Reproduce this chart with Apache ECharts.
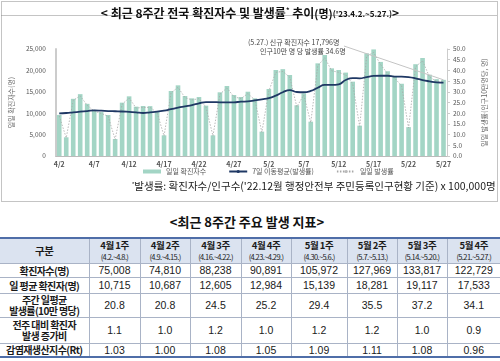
<!DOCTYPE html>
<html><head><meta charset="utf-8">
<script src="https://cdn.jsdelivr.net/npm/echarts@6/dist/echarts.min.js"></script>
<style>
html,body{margin:0;padding:0;background:#fff;}
#wrap{position:relative;width:500px;height:361px;overflow:hidden;font-family:"Noto Sans CJK KR","Noto Sans",sans-serif;}
#chart{position:absolute;left:0;top:0;width:500px;height:205px;}
#ttl{position:absolute;left:0;top:213px;width:494px;text-align:center;font-weight:bold;font-size:13px;color:#111;line-height:18px;}
table{position:absolute;left:0;top:237px;border-collapse:collapse;table-layout:fixed;width:500px;}
td,th{border:1px solid #a9b3c6;padding:0;text-align:center;color:#1a1a1a;overflow:hidden;white-space:nowrap;}
tr:first-child th{border-top:2px solid #4f6ea8;}
tr:last-child td{border-bottom:2px solid #4f6ea8;}
th{background:#dbe3f0;font-weight:bold;font-size:9.5px;line-height:11px;letter-spacing:-0.5px;}
th small{font-size:7.5px;font-weight:normal;letter-spacing:-0.6px;}
td.h{font-weight:bold;font-size:10px;letter-spacing:-0.6px;line-height:11px;}
td.n{font-family:"Liberation Sans",Arial,sans-serif;font-size:10.5px;}
td:first-child,th:first-child{border-left:none;}
td:last-child,th:last-child{border-right:none;}
</style></head>
<body><div id="wrap">
<div id="chart"></div>
<div id="ttl">&lt;최근 8주간 주요 발생 지표&gt;</div>
<table id="tbl"></table>
</div>
<script>
var dates = ['4/2','4/3','4/4','4/5','4/6','4/7','4/8','4/9','4/10','4/11','4/12','4/13','4/14','4/15','4/16','4/17','4/18','4/19','4/20','4/21','4/22','4/23','4/24','4/25','4/26','4/27','4/28','4/29','4/30','5/1','5/2','5/3','5/4','5/5','5/6','5/7','5/8','5/9','5/10','5/11','5/12','5/13','5/14','5/15','5/16','5/17','5/18','5/19','5/20','5/21','5/22','5/23','5/24','5/25','5/26','5/27'];
var dailyCases = [9600,4370,13360,14450,12190,10780,10258, 9580,3970,12460,13940,11530,11680,11650, 10440,4830,15190,16510,14020,13470,13778, 11760,4830,14880,16360,14250,13790,15021, 13470,5690,15650,20090,20290,18930,11852, 14640,8020,21650,23600,20480,20090,19489, 17370,7090,23980,24900,21980,19800,18697, 16880,6750,21450,22900,19000,17953,17796];
var dailyRate = [18.7,8.5,26.0,28.1,23.7,21.0,19.9, 18.6,7.7,24.2,27.1,22.4,22.7,22.7, 20.3,9.4,29.5,32.1,27.3,26.2,26.8, 22.9,9.4,28.9,31.8,27.7,26.8,29.2, 26.2,11.1,30.4,39.1,39.5,36.8,23.0, 28.5,15.6,42.1,45.9,39.8,39.1,37.9, 33.8,13.8,46.6,48.4,42.7,38.5,36.4, 32.8,13.1,41.7,44.5,36.9,34.9,34.6];
var ma7Rate = [19.9,20.1,20.4,20.7,21.0,21.3,21.2, 21.0,20.9,20.8,20.6,20.4,20.1,20.4, 20.7,21.2,21.9,22.6,23.2,23.8,24.6, 25.2,25.2,25.1,25.1,25.1,25.4,25.5, 26.0,26.5,27.0,28.2,29.8,30.8,29.9, 29.8,30.4,31.9,33.2,33.2,33.5,35.5, 36.4,36.3,36.9,37.4,37.5,37.5,37.1, 37.1,36.9,36.3,35.5,34.9,34.4,34.3];
var leftTicks = [0,5000,10000,15000,20000,25000];

var weekHeads = [['4월 1주','(4.2.~4.8.)'],['4월 2주','(4.9.~4.15.)'],['4월 3주','(4.16.~4.22.)'],['4월 4주','(4.23.~4.29.)'],['5월 1주','(4.30.~5.6.)'],['5월 2주','(5.7.~5.13.)'],['5월 3주','(5.14.~5.20.)'],['5월 4주','(5.21.~5.27.)']];
var weekCases = ['75,008','74,810','88,238','90,891','105,972','127,969','133,817','122,729'];
var weekDailyAvg = ['10,715','10,687','12,605','12,984','15,139','18,281','19,117','17,533'];
var weekRate = ['20.8','20.8','24.5','25.2','29.4','35.5','37.2','34.1'];
var weekRatio = ['1.1','1.0','1.2','1.0','1.2','1.2','1.0','0.9'];
var weekRt = ['1.03','1.00','1.08','1.05','1.09','1.11','1.08','0.96'];

// table
var colW = [89,51,50,51,50,56,50,50,53];
var html = '<colgroup>' + colW.map(function(w){return '<col style="width:'+w+'px">';}).join('') + '</colgroup>';
html += '<tr style="height:25px"><th style="font-size:10.5px">구분</th>' + weekHeads.map(function(h){return '<th>'+h[0]+'<br><small>'+h[1]+'</small></th>';}).join('') + '</tr>';
function row(label, vals, h){
  return '<tr style="height:'+h+'px"><td class="h">'+label+'</td>' + vals.map(function(v){return '<td class="n">'+v+'</td>';}).join('') + '</tr>';
}
html += row('확진자수(명)', weekCases, 14);
html += row('일 평균 확진자(명)', weekDailyAvg, 16);
html += row('주간 일평균<br>발생률(10만 명당)', weekRate, 24);
html += row('전주 대비 확진자<br>발생 증가비', weekRatio, 26);
html += row('감염재생산지수(Rt)', weekRt, 14);
document.getElementById('tbl').innerHTML = html;

var chart = echarts.init(document.getElementById('chart'));
var F = '"Noto Sans CJK KR","Noto Sans",sans-serif';
chart.setOption({
  animation:false,
  textStyle:{fontFamily:F},
  title:{
    left:'center', top:2,
    text:'{b|< 최근 8주간 전국 확진자수 및 발생률}{s|*}{b| 추이}{m|(명)}{t|(\'23.4.2.~5.27.)}{b|>}',
    textStyle:{rich:{
      b:{fontFamily:F,fontSize:12,fontWeight:'bold',color:'#111'},
      s:{fontFamily:F,fontSize:7,fontWeight:'bold',color:'#111',verticalAlign:'top',padding:[0,0,6,0]},
      m:{fontFamily:F,fontSize:11,color:'#111'},
      t:{fontFamily:F,fontSize:8,color:'#111'}
    }}
  },
  grid:{left:52,right:53,top:49,bottom:49},
  legend:{
    left:138, top:163, itemWidth:18, itemHeight:4, itemGap:22,
    textStyle:{fontSize:7,color:'#555',fontFamily:F},
    data:[{name:'일일 확진자수',icon:'rect'},{name:'7일 이동평균(발생률)'},{name:'일일 발생률'}]
  },
  xAxis:{
    type:'category', data:dates, boundaryGap:true,
    axisLine:{lineStyle:{color:'#bbb',width:1}},
    axisTick:{show:false},
    axisLabel:{interval:4,fontSize:7,color:'#555',margin:5,fontWeight:'bold'}
  },
  yAxis:[{
    type:'value', min:0, max:25000, interval:5000,
    name:'일일 확진자수(명)', nameLocation:'middle', nameGap:30, nameRotate:90,
    nameTextStyle:{fontSize:7,color:'#666'},
    axisLine:{show:true,lineStyle:{color:'#ccc',width:2}},
    axisTick:{show:false}, splitLine:{show:false},
    axisLabel:{fontSize:6.5,color:'#555',margin:10,formatter:function(v){return v.toLocaleString('en-US');}}
  },{
    type:'value', min:0, max:50, interval:5,
    name:'일일 발생률(인구10만명당, 명)', nameLocation:'middle', nameGap:34, nameRotate:90,
    nameTextStyle:{fontSize:7,color:'#666'},
    axisLine:{show:true,lineStyle:{color:'#ccc',width:1}},
    axisTick:{show:true,length:3,lineStyle:{color:'#ccc'}}, splitLine:{show:false},
    axisLabel:{fontSize:6.5,color:'#555',margin:6,formatter:function(v){return v.toFixed(1);}}
  }],
  series:[{
    name:'일일 확진자수', type:'bar', data:dailyCases, barWidth:'66%',
    itemStyle:{color:'#a3d5c5'},
    markLine:{
      silent:true, symbol:['none','none'], label:{show:false},
      lineStyle:{color:'#c4c4c4',width:1,type:'solid'},
      data:[[{x:344,y:46},{coord:['5/27',17796]}]]
    }
  },{
    name:'7일 이동평균(발생률)', type:'line', yAxisIndex:1, data:ma7Rate,
    smooth:true, showSymbol:false, symbol:'none',
    lineStyle:{color:'#1f3864',width:1.8}, itemStyle:{color:'#1f3864'}, z:4
  },{
    name:'일일 발생률', type:'line', yAxisIndex:1, data:dailyRate,
    showSymbol:false, symbol:'none',
    lineStyle:{color:'#a8a8a8',width:0.8,type:[1.5,1.5]}, itemStyle:{color:'#bbb'}, z:3
  }],
  graphic:[
    {type:'rect',shape:{x:1.5,y:1.5,width:496,height:200},style:{fill:'none',stroke:'#888',lineWidth:1,lineDash:[1,1]},silent:true},
    {type:'line',shape:{x1:1.5,y1:15.5,x2:497.5,y2:15.5},style:{stroke:'#888',lineWidth:1,lineDash:[1,1]},silent:true},
    {type:'text',left:248,top:39,style:{text:'(5.27.) 신규 확진자수 17,796명',fontSize:7,fill:'#444',fontFamily:F}},
    {type:'text',left:260,top:48,style:{text:'인구10만 명 당 발생률 34.6명',fontSize:7,fill:'#444',fontFamily:F}},
    {type:'text',left:132,top:181,style:{text:'{s|*}{n|발생률: 확진자수/인구수(\'22.12월 행정안전부 주민등록인구현황 기준) x 100,000명}',
      rich:{s:{fontSize:6,fill:'#222',verticalAlign:'top'},n:{fontSize:10.5,fill:'#222',fontFamily:F}}}}
  ]
});
</script>
</body></html>
